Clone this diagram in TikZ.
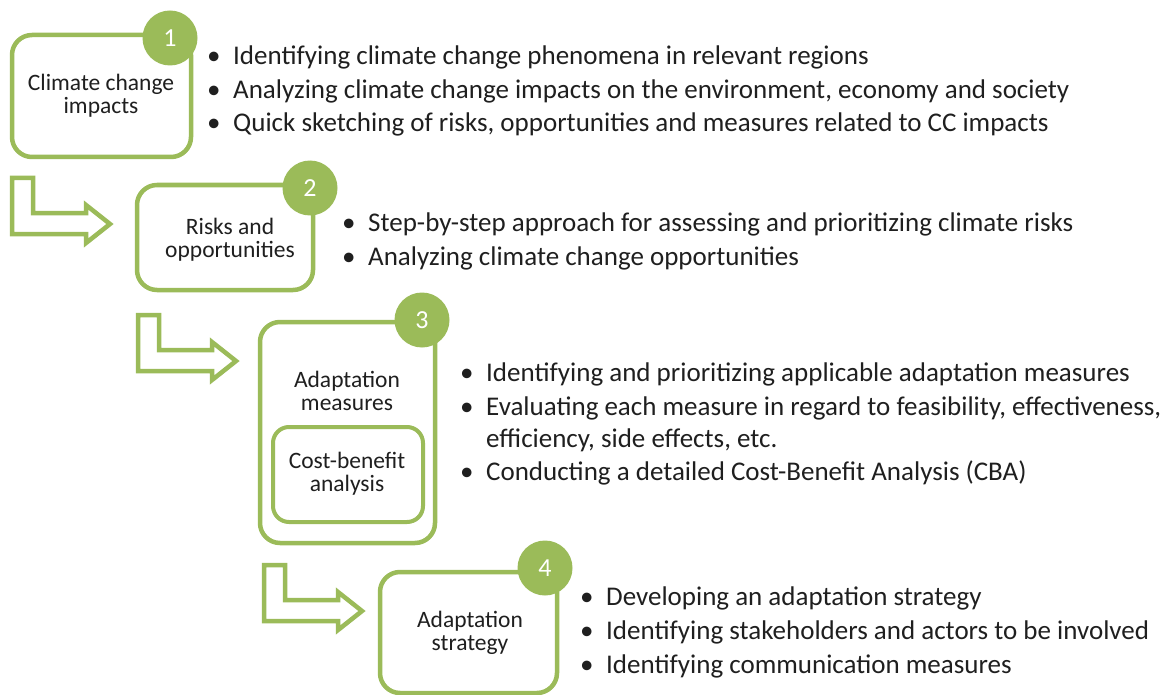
\documentclass[tikz,border=0pt]{standalone}
\usepackage{fontspec}
\setmainfont{Carlito}
\usetikzlibrary{shadows}
\definecolor{cgreen}{HTML}{9BBB59}
\definecolor{ctext}{HTML}{1F1F1F}
\tikzset{
  softshadow/.style={drop shadow={opacity=0.22,shadow xshift=1.5pt,shadow yshift=-1.5pt}},
  stagebox/.style={draw=cgreen,line width=4.5pt,rounded corners=20pt,fill=white,inner sep=0pt,softshadow},
  innerbox/.style={draw=cgreen,line width=4pt,rounded corners=16pt,fill=white,inner sep=0pt,softshadow},
  boxtext/.style={align=center,text=ctext,font=\fontsize{23.5}{23}\selectfont,inner sep=0pt},
  numcirc/.style={circle,fill=cgreen,minimum size=55pt,inner sep=0pt,text=white,font=\fontsize{26}{30}\selectfont},
  bullettext/.style={anchor=base west,inner sep=0pt,text=ctext,font=\fontsize{27}{30}\selectfont},
  arrowline/.style={draw=cgreen,line width=4.5pt,fill=white,line join=miter,softshadow},
  bentarrow/.pic={\path[arrowline] (0,0) -- (21,0) -- (21,35) -- (74,35) -- (74,27) -- (98,46) -- (74,65) -- (74,56) -- (0,56) -- cycle;}
}
\newcommand{\bul}{\makebox[26pt][l]{\textbullet}}
\begin{document}
\begin{tikzpicture}[x=1pt,y=-1pt]
\useasboundingbox (0,0) rectangle (1174,695);
% arrows
\pic (a1) at (12,178) {bentarrow};
\pic (a2) at (138,315) {bentarrow};
\pic (a3) at (264,565) {bentarrow};
% boxes
\node[stagebox,minimum width=179pt,minimum height=122pt] (b1) at (101.5,96) {};
\node[stagebox,minimum width=176pt,minimum height=105pt] (b2) at (225,237.5) {};
\node[stagebox,minimum width=175pt,minimum height=221pt] (b3) at (347.5,432.5) {};
\node[innerbox,minimum width=150pt,minimum height=95pt] (b3i) at (348,474.5) {};
\node[stagebox,minimum width=177pt,minimum height=121pt] (b4) at (468.5,632.5) {};
% box texts
\node[boxtext] (t1) at (101,95.5) {Climate change\\impacts};
\node[boxtext] (t2) at (230,240) {Risks and\\opportunities};
\node[boxtext] (t3) at (347,391) {Adaptation\\measures};
\node[boxtext] (t3i) at (347,474) {Cost-benefit\\analysis};
\node[boxtext] (t4) at (470,633) {Adaptation\\strategy};
% number circles
\node[numcirc] (n1) at (170,38) {1};
\node[numcirc] (n2) at (310,188) {2};
\node[numcirc] (n3) at (422,320) {3};
\node[numcirc] (n4) at (545,568) {4};
% bullet texts
\node[bullettext] (l11) at (207,65) {\bul Identifying climate change phenomena in relevant regions};
\node[bullettext] (l12) at (207,98.5) {\bul Analyzing climate change impacts on the environment, economy and society};
\node[bullettext] (l13) at (207,132) {\bul Quick sketching of risks, opportunities and measures related to CC impacts};
\node[bullettext] (l21) at (342,231.5) {\bul Step-by-step approach for assessing and prioritizing climate risks};
\node[bullettext] (l22) at (342,265) {\bul Analyzing climate change opportunities};
\node[bullettext] (l31) at (460,381.7) {\bul Identifying and prioritizing applicable adaptation measures};
\node[bullettext] (l32) at (460,415) {\bul Evaluating each measure in regard to feasibility, effectiveness,};
\node[bullettext] (l32b) at (486,447.5) {efficiency, side effects, etc.};
\node[bullettext] (l33) at (460,480) {\bul Conducting a detailed Cost-Benefit Analysis (CBA)};
\node[bullettext] (l41) at (580,605) {\bul Developing an adaptation strategy};
\node[bullettext] (l42) at (580,639) {\bul Identifying stakeholders and actors to be involved};
\node[bullettext] (l43) at (580,673) {\bul Identifying communication measures};
\end{tikzpicture}
\end{document}
